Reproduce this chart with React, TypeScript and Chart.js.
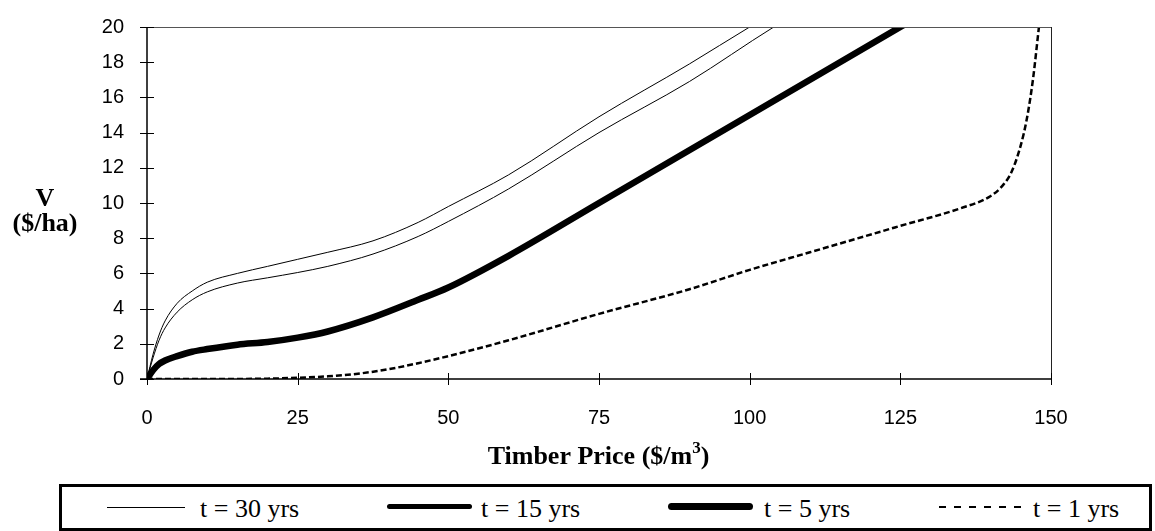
import React, { useEffect, useRef } from "react";
import { Chart, registerables } from "chart.js";

Chart.register(...registerables);

// ---- Data ----
const xTicks = [0, 25, 50, 75, 100, 125, 150];
const yTicks = [0, 2, 4, 6, 8, 10, 12, 14, 16, 18, 20];

const t30Price = [0, 1, 2, 3, 5, 7.5, 10, 15, 20, 25, 30, 37.5, 45, 50, 60, 75, 90, 100, 110];
const t30Value = [0, 1.4, 2.5, 3.3, 4.3, 5.0, 5.5, 6.0, 6.4, 6.8, 7.2, 7.85, 8.9, 9.8, 11.6, 14.9, 17.9, 20, 22];

const t15Price = [0, 1, 2, 3, 5, 7.5, 10, 15, 20, 25, 30, 37.5, 45, 50, 60, 75, 90, 104, 110];
const t15Value = [0, 1.2, 2.2, 2.9, 3.8, 4.5, 4.95, 5.45, 5.75, 6.05, 6.4, 7.1, 8.1, 8.95, 10.8, 14.0, 16.9, 20, 21.2];

const t5Price = [0, 1, 2, 3, 5, 7.5, 10, 15, 20, 25, 30, 37.5, 45, 50, 60, 75, 100, 125, 130];
const t5Value = [0, 0.5, 0.85, 1.05, 1.3, 1.55, 1.7, 1.95, 2.1, 2.35, 2.7, 3.5, 4.5, 5.2, 7.0, 10.0, 15.0, 20, 21];

const t1Price = [0, 10, 20, 25, 30, 35, 40, 45, 50, 60, 75, 90, 100, 110, 125, 135, 140, 142, 143.5, 145, 146, 147, 148, 149];
const t1Value = [0, 0, 0.02, 0.07, 0.15, 0.3, 0.55, 0.9, 1.3, 2.2, 3.7, 5.1, 6.2, 7.2, 8.7, 9.7, 10.4, 11.0, 11.8, 13.3, 14.8, 17.0, 20, 23];

const legendLabels = ["t = 30 yrs", "t = 15 yrs", "t = 5 yrs", "t = 1 yrs"];

const toPoints = (xs: number[], ys: number[]) => xs.map((x, i) => ({ x, y: ys[i] }));

const SERIF = "'Liberation Serif', 'Times New Roman', Times, serif";
const SANS = "'Liberation Sans', Arial, sans-serif";

const framePlugin = {
  id: "frame",
  afterDraw(chart: any) {
    const { ctx, chartArea } = chart;
    const { left, right, top, bottom } = chartArea;
    const xs = chart.scales.x;
    const ys = chart.scales.y;
    ctx.save();
    // top and right borders
    ctx.strokeStyle = "#555";
    ctx.lineWidth = 1;
    ctx.beginPath();
    ctx.moveTo(left, top + 0.5);
    ctx.lineTo(right, top + 0.5);
    ctx.stroke();
    ctx.strokeStyle = "#222";
    ctx.beginPath();
    ctx.moveTo(right + 0.5, top);
    ctx.lineTo(right + 0.5, bottom);
    ctx.stroke();
    // axes
    ctx.strokeStyle = "#000";
    ctx.lineWidth = 1.5;
    ctx.beginPath();
    ctx.moveTo(left, top);
    ctx.lineTo(left, bottom);
    ctx.moveTo(left - 7, bottom);
    ctx.lineTo(right, bottom);
    ctx.stroke();
    // crossing tick marks
    ctx.lineWidth = 1;
    ctx.beginPath();
    yTicks.forEach((v) => {
      const py = Math.round(ys.getPixelForValue(v)) + 0.5;
      ctx.moveTo(left - 7, py);
      ctx.lineTo(left + 7, py);
    });
    xTicks.forEach((v) => {
      const px = Math.round(xs.getPixelForValue(v)) + 0.5;
      ctx.moveTo(px, bottom - 6);
      ctx.lineTo(px, bottom + 6);
    });
    ctx.stroke();

    // axis titles
    ctx.fillStyle = "#000";
    ctx.font = `bold 26px ${SERIF}`;
    ctx.textAlign = "center";
    ctx.textBaseline = "alphabetic";
    ctx.fillText("V", 45, 206);
    ctx.fillText("($/ha)", 45, 231);

    const main = "Timber Price ($/m";
    const sup = "3";
    const close = ")";
    ctx.font = `bold 26px ${SERIF}`;
    const wMain = ctx.measureText(main).width;
    const wClose = ctx.measureText(close).width;
    ctx.font = `bold 17px ${SERIF}`;
    const wSup = ctx.measureText(sup).width;
    const total = wMain + wSup + wClose;
    let x0 = 598.5 - total / 2;
    ctx.textAlign = "left";
    ctx.font = `bold 26px ${SERIF}`;
    ctx.fillText(main, x0, 464);
    ctx.font = `bold 17px ${SERIF}`;
    ctx.fillText(sup, x0 + wMain, 453);
    ctx.font = `bold 26px ${SERIF}`;
    ctx.fillText(close, x0 + wMain + wSup, 464);
    ctx.restore();
  },
};

export default function App() {
  const canvasRef = useRef<HTMLCanvasElement | null>(null);

  useEffect(() => {
    if (!canvasRef.current) return;
    const chart = new Chart(canvasRef.current, {
      type: "line",
      data: {
        datasets: [
          {
            label: legendLabels[0],
            data: toPoints(t30Price, t30Value),
            borderColor: "#000",
            borderWidth: 1,
            pointRadius: 0,
            cubicInterpolationMode: "monotone",
            fill: false,
          },
          {
            label: legendLabels[1],
            data: toPoints(t15Price, t15Value),
            borderColor: "#000",
            borderWidth: 1,
            pointRadius: 0,
            cubicInterpolationMode: "monotone",
            fill: false,
          },
          {
            label: legendLabels[2],
            data: toPoints(t5Price, t5Value),
            borderColor: "#000",
            borderWidth: 6.5,
            pointRadius: 0,
            cubicInterpolationMode: "monotone",
            fill: false,
          },
          {
            label: legendLabels[3],
            data: toPoints(t1Price, t1Value),
            borderColor: "#000",
            borderWidth: 2.5,
            borderDash: [6, 3],
            pointRadius: 0,
            cubicInterpolationMode: "monotone",
            fill: false,
          },
        ],
      },
      options: {
        responsive: false,
        animation: false,
        layout: { padding: { left: 0, top: 17, right: 104, bottom: 82 } },
        plugins: { legend: { display: false }, tooltip: { enabled: false }, title: { display: false } },
        scales: {
          x: {
            type: "linear",
            min: 0,
            max: 150,
            afterFit: (s: any) => {
              s.height = 70;
            },
            afterBuildTicks: (s: any) => {
              s.ticks = xTicks.map((v) => ({ value: v }));
            },
            grid: { display: false },
            border: { display: false },
            ticks: { color: "#000", font: { family: SANS, size: 20 }, padding: 19, maxRotation: 0 },
          },
          y: {
            type: "linear",
            min: 0,
            max: 20,
            afterFit: (s: any) => {
              s.width = 147;
            },
            afterBuildTicks: (s: any) => {
              s.ticks = yTicks.map((v) => ({ value: v }));
            },
            grid: { display: false },
            border: { display: false },
            ticks: { color: "#000", font: { family: SANS, size: 20 }, padding: 15 },
          },
        },
      },
      plugins: [framePlugin],
    });
    return () => chart.destroy();
  }, []);

  const textStyle: React.CSSProperties = {
    position: "absolute",
    fontFamily: SERIF,
    fontSize: 26,
    lineHeight: "26px",
    top: 496,
    whiteSpace: "nowrap",
    color: "#000",
  };

  return (
    <div style={{ position: "absolute", left: 0, top: 0, width: 1155, height: 531, background: "#fff", overflow: "hidden" }}>
      <canvas ref={canvasRef} width={1155} height={531} style={{ position: "absolute", left: 0, top: 0, width: 1155, height: 531 }} />
      <div
        style={{
          position: "absolute",
          left: 59,
          top: 484,
          width: 1093,
          height: 47,
          boxSizing: "border-box",
          border: "3px solid #000",
          background: "#fff",
        }}
      />
      {/* t = 30 */}
      <div style={{ position: "absolute", left: 107, top: 507, width: 78, height: 1, background: "#000" }} />
      <div style={{ ...textStyle, left: 200 }}>{legendLabels[0]}</div>
      {/* t = 15 */}
      <div style={{ position: "absolute", left: 387, top: 504, width: 85, height: 5, borderRadius: 3, background: "#000" }} />
      <div style={{ ...textStyle, left: 481 }}>{legendLabels[1]}</div>
      {/* t = 5 */}
      <div style={{ position: "absolute", left: 668, top: 503, width: 85, height: 7, borderRadius: 4, background: "#000" }} />
      <div style={{ ...textStyle, left: 764 }}>{legendLabels[2]}</div>
      {/* t = 1 */}
      <div
        style={{
          position: "absolute",
          left: 939,
          top: 506,
          width: 82,
          height: 2,
          background: "repeating-linear-gradient(to right, #000 0px, #000 7px, transparent 7px, transparent 15px)",
        }}
      />
      <div style={{ ...textStyle, left: 1033 }}>{legendLabels[3]}</div>
    </div>
  );
}
